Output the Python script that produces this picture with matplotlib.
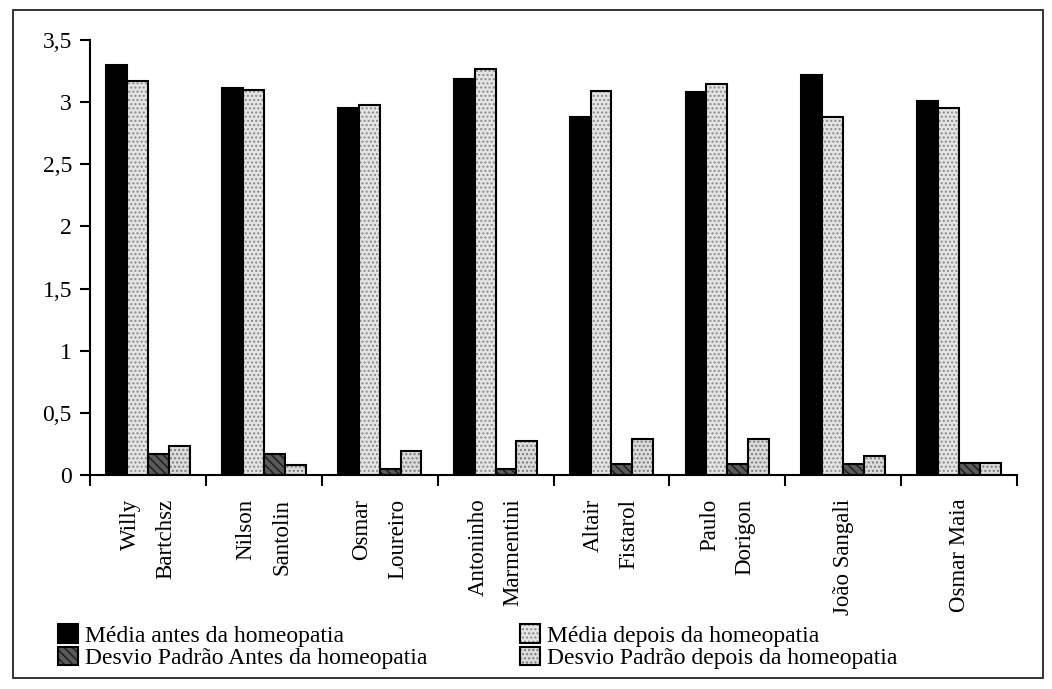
import numpy as np
import matplotlib
matplotlib.use("Agg")
import matplotlib.pyplot as plt
from matplotlib.patches import Rectangle
from matplotlib.ticker import FixedLocator, FixedFormatter
from matplotlib.legend_handler import HandlerTuple


CATEGORIAS = [
    "Willy\nBartchsz",
    "Nilson\nSantolin",
    "Osmar\nLoureiro",
    "Antoninho\nMarmentini",
    "Altair\nFistarol",
    "Paulo\nDorigon",
    "João Sangali",
    "Osmar Maia",
]

MEDIA_ANTES = [3.30, 3.11, 2.95, 3.19, 2.88, 3.08, 3.22, 3.01]
MEDIA_DEPOIS = [3.17, 3.10, 2.98, 3.27, 3.09, 3.15, 2.88, 2.95]
DP_ANTES = [0.17, 0.17, 0.05, 0.05, 0.09, 0.09, 0.09, 0.10]
DP_DEPOIS = [0.23, 0.08, 0.19, 0.27, 0.29, 0.29, 0.15, 0.10]

Y_TICKS = [0, 0.5, 1, 1.5, 2, 2.5, 3, 3.5]
Y_LABELS = ["0", "0,5", "1", "1,5", "2", "2,5", "3", "3,5"]

LEGENDA = [
    "Média antes da homeopatia",
    "Média depois da homeopatia",
    "Desvio Padrão Antes da homeopatia",
    "Desvio Padrão depois da homeopatia",
]

plt.rcParams["font.family"] = ["Liberation Serif", "DejaVu Serif"]
plt.rcParams["hatch.linewidth"] = 1.0

W, H = 1052, 689
fig = plt.figure(figsize=(W / 100, H / 100), dpi=100)

# moldura externa do grafico
fig.add_artist(Rectangle((13 / W, 1 - 678 / H), (1043 - 13) / W, (678 - 10) / H,
                         transform=fig.transFigure, fill=False,
                         edgecolor="#333333", linewidth=1.4))

ax = fig.add_axes([90 / W, 1 - 475 / H, (1017 - 90) / W, (475 - 40) / H])

x = np.arange(len(CATEGORIAS))
larg = 0.18

series = [
    (MEDIA_ANTES, dict(color="black", edgecolor="black")),
    (MEDIA_DEPOIS, dict(color="#e4e4e4", edgecolor="#8a8a8a", hatch="....")),
    (DP_ANTES, dict(color="#5a5a5a", edgecolor="#1a1a1a", hatch="\\\\\\\\")),
    (DP_DEPOIS, dict(color="#dcdcdc", edgecolor="#7a7a7a", hatch="....")),
]

handles = []
for i, (vals, estilo) in enumerate(series):
    pos = x + (i - 1.5) * larg
    b = ax.bar(pos, vals, larg, linewidth=0, **estilo)
    # contorno preto por cima do padrao
    c = ax.bar(pos, vals, larg, fill=False, edgecolor="black", linewidth=1.5)
    handles.append((b, c))

ax.set_xlim(-0.5, len(CATEGORIAS) - 0.5)
ax.set_ylim(0, 3.5)

for s in ["top", "right"]:
    ax.spines[s].set_visible(False)
ax.spines["left"].set_linewidth(1.5)
ax.spines["bottom"].set_linewidth(1.5)

ax.yaxis.set_major_locator(FixedLocator(Y_TICKS))
ax.yaxis.set_major_formatter(FixedFormatter(Y_LABELS))
ax.tick_params(axis="y", direction="out", length=7, width=1.5, labelsize=17, pad=6)

ax.set_xticks(x)
ax.set_xticklabels(CATEGORIAS, rotation=90, ha="center", va="top",
                   multialignment="right", linespacing=1.9, fontsize=16.5)
ax.xaxis.set_minor_locator(FixedLocator(np.arange(len(CATEGORIAS) + 1) - 0.5))
ax.tick_params(axis="x", which="major", length=0, pad=17)
ax.tick_params(axis="x", which="minor", direction="out", length=8, width=1.5)

kw = dict(frameon=False, fontsize=17, handlelength=0.85, handleheight=0.85,
          handletextpad=0.3, labelspacing=0.0, borderpad=0, borderaxespad=0,
          loc="upper left", handler_map={tuple: HandlerTuple(ndivide=1, pad=0)})
fig.legend([handles[0], handles[2]], [LEGENDA[0], LEGENDA[2]],
           bbox_to_anchor=(58 / W, 1 - 624 / H), **kw)
fig.legend([handles[1], handles[3]], [LEGENDA[1], LEGENDA[3]],
           bbox_to_anchor=(520 / W, 1 - 624 / H), **kw)

fig.savefig("out.png", dpi=100)
